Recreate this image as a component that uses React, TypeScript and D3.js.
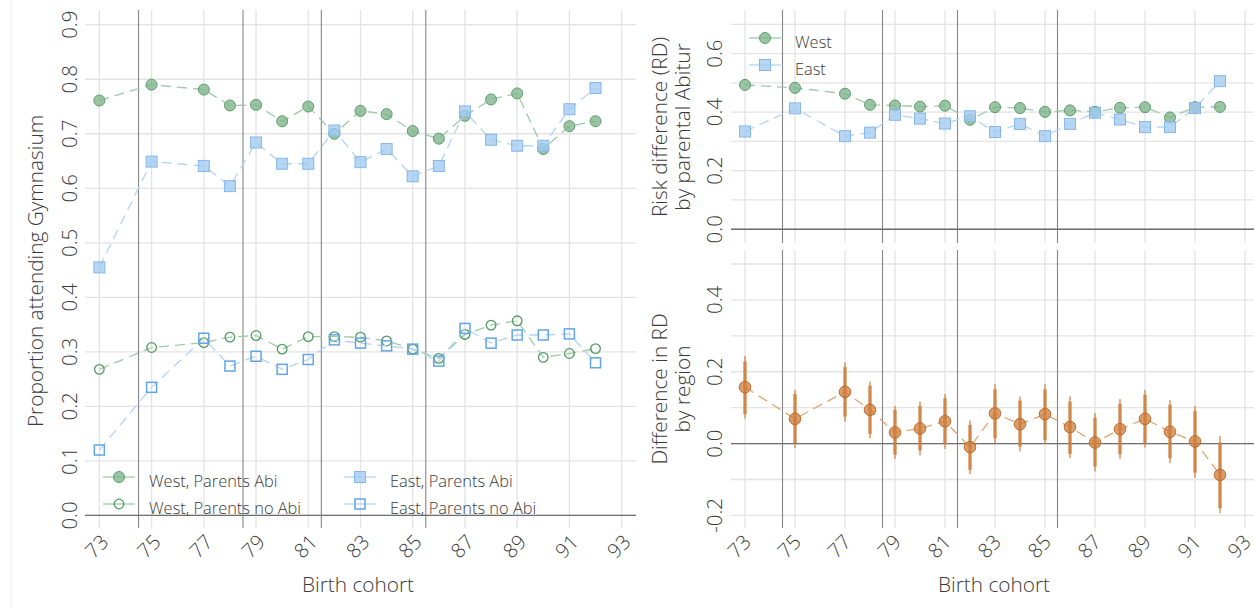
import React from "react";
import * as d3 from "d3";

const years = [73, 75, 77, 78, 79, 80, 81, 82, 83, 84, 85, 86, 87, 88, 89, 90, 91, 92];
const xTicks = [73, 75, 77, 79, 81, 83, 85, 87, 89, 91, 93];
const separators = [74.5, 78.5, 81.5, 85.5];

const westAbi = [0.761, 0.79, 0.781, 0.752, 0.753, 0.723, 0.75, 0.7, 0.742, 0.736, 0.705, 0.691, 0.733, 0.763, 0.774, 0.672, 0.714, 0.723];
const eastAbi = [0.455, 0.649, 0.641, 0.604, 0.684, 0.645, 0.645, 0.706, 0.648, 0.672, 0.622, 0.641, 0.741, 0.689, 0.678, 0.678, 0.745, 0.784];
const westNoAbi = [0.268, 0.308, 0.317, 0.327, 0.33, 0.305, 0.328, 0.328, 0.327, 0.32, 0.305, 0.288, 0.332, 0.349, 0.357, 0.29, 0.297, 0.306];
const eastNoAbi = [0.12, 0.235, 0.325, 0.274, 0.292, 0.268, 0.286, 0.322, 0.316, 0.311, 0.305, 0.283, 0.343, 0.316, 0.331, 0.331, 0.333, 0.28];

const rdWest = [0.493, 0.483, 0.463, 0.425, 0.423, 0.419, 0.422, 0.374, 0.417, 0.414, 0.401, 0.406, 0.401, 0.415, 0.417, 0.382, 0.417, 0.418];
const rdEast = [0.334, 0.413, 0.318, 0.33, 0.391, 0.378, 0.361, 0.386, 0.332, 0.36, 0.318, 0.36, 0.398, 0.375, 0.349, 0.349, 0.414, 0.506];

const diffRD = [0.157, 0.069, 0.144, 0.094, 0.031, 0.042, 0.062, -0.01, 0.084, 0.054, 0.082, 0.046, 0.003, 0.04, 0.069, 0.033, 0.006, -0.087];
const lo95 = [0.07, -0.013, 0.061, 0.015, -0.043, -0.033, -0.015, -0.085, 0.001, -0.022, -0.001, -0.041, -0.078, -0.043, -0.011, -0.055, -0.095, -0.194];
const hi95 = [0.244, 0.149, 0.226, 0.173, 0.105, 0.117, 0.138, 0.064, 0.165, 0.131, 0.165, 0.131, 0.085, 0.124, 0.149, 0.121, 0.105, 0.021];
const lo90 = [0.082, 0.001, 0.075, 0.027, -0.031, -0.019, -0.002, -0.073, 0.015, -0.008, 0.01, -0.029, -0.064, -0.03, 0.001, -0.041, -0.081, -0.18];
const hi90 = [0.229, 0.138, 0.213, 0.161, 0.094, 0.105, 0.126, 0.052, 0.151, 0.12, 0.151, 0.117, 0.072, 0.111, 0.136, 0.108, 0.091, 0.003];

const leftYTicks = [0, 0.1, 0.2, 0.3, 0.4, 0.5, 0.6, 0.7, 0.8, 0.9];
const rtGrid = [0, 0.1, 0.2, 0.3, 0.4, 0.5, 0.6, 0.7];
const rtLabels = [0, 0.2, 0.4, 0.6];
const rbGrid = [-0.2, -0.1, 0, 0.1, 0.2, 0.3, 0.4, 0.5];
const rbLabels = [-0.2, 0, 0.2, 0.4];

const FONT = "'Open Sans', 'Noto Sans', sans-serif";
const FW = 300;
const TXT = "#3a3a3a";
const GRID = "#e3e3e3";
const SEP = "#858585";
const ZERO = "#6e6e6e";

const G_FILL = "#7db38b";
const G_STROKE = "#5c9c6c";
const G_LINE = "#9fcaa9";
const G_OPEN = "#4f9a62";
const B_FILL = "#a2caf1";
const B_STROKE = "#86b7ea";
const B_LINE = "#b3d4f4";
const B_OPEN = "#62a5e6";
const O_FILL = "#cd7d3c";
const O_LINE = "#e2a672";

const fmt = (v: number) => (Math.abs(v) < 1e-9 ? "0.0" : v.toFixed(1));

type Marker = "fcircle" | "ocircle" | "fsquare" | "osquare" | "orange";

function MarkerShape({ x, y, m }: { x: number; y: number; m: Marker }) {
  if (m === "fcircle")
    return <circle cx={x} cy={y} r={5.5} fill={G_FILL} fillOpacity={0.78} stroke={G_STROKE} strokeWidth={1} />;
  if (m === "ocircle")
    return <circle cx={x} cy={y} r={4.8} fill="none" stroke={G_OPEN} strokeWidth={1.3} />;
  if (m === "fsquare")
    return <rect x={x - 5.5} y={y - 5.5} width={11} height={11} fill={B_FILL} fillOpacity={0.78} stroke={B_STROKE} strokeWidth={1} />;
  if (m === "osquare")
    return <rect x={x - 5} y={y - 5} width={10} height={10} fill="none" stroke={B_OPEN} strokeWidth={1.5} />;
  return <circle cx={x} cy={y} r={5.8} fill={O_FILL} fillOpacity={0.75} stroke="#bf6a2a" strokeWidth={1} />;
}

function Series({ xs, ys, values, color, marker }: { xs: d3.ScaleLinear<number, number>; ys: d3.ScaleLinear<number, number>; values: number[]; color: string; marker: Marker }) {
  const line = d3.line<number>().x((_, i) => xs(years[i])).y((v) => ys(v));
  return (
    <g>
      <path d={line(values) || ""} fill="none" stroke={color} strokeWidth={1.3} strokeDasharray="10,6" />
      {values.map((v, i) => (
        <MarkerShape key={i} x={xs(years[i])} y={ys(v)} m={marker} />
      ))}
    </g>
  );
}

function Frame({ xs, ys, top, bottom, left, right, gridY, labelsY, labelX, xLabelY, xLabels, xLabelDx }: any) {
  return (
    <g>
      {gridY.map((v: number) => (
        <line key={"gy" + v} x1={left} x2={right} y1={ys(v)} y2={ys(v)} stroke={GRID} strokeWidth={1.3} />
      ))}
      {xTicks.map((t) => (
        <line key={"gx" + t} x1={xs(t)} x2={xs(t)} y1={top} y2={bottom} stroke={GRID} strokeWidth={1.3} />
      ))}
      {separators.map((s) => (
        <line key={"s" + s} x1={xs(s)} x2={xs(s)} y1={top} y2={bottom} stroke={SEP} strokeWidth={1.1} />
      ))}
      <line x1={left} x2={right} y1={ys(0)} y2={ys(0)} stroke={ZERO} strokeWidth={1.3} />
      {labelsY.map((v: number) => (
        <text key={"ly" + v} transform={`translate(${labelX},${ys(v)}) rotate(-90)`} textAnchor="middle" dominantBaseline="central" fontSize={20.5} fontWeight={FW} fill={TXT} fontFamily={FONT}>
          {fmt(v)}
        </text>
      ))}
      {xLabels &&
        xTicks.map((t) => (
          <text key={"lx" + t} transform={`translate(${xs(t) + (xLabelDx ?? -3)},${xLabelY}) rotate(-45)`} textAnchor="middle" dominantBaseline="central" fontSize={20} fontWeight={FW} fill={TXT} fontFamily={FONT}>
            {t}
          </text>
        ))}
    </g>
  );
}

function LegendItem({ x, y, marker, color, label }: { x: number; y: number; marker: Marker; color: string; label: string }) {
  return (
    <g>
      <line x1={x - 16} x2={x + 16} y1={y} y2={y} stroke={color} strokeWidth={1.3} />
      <MarkerShape x={x} y={y} m={marker} />
      <text x={x + 30} y={y + 3} dominantBaseline="central" fontSize={16.4} fontWeight={FW} fill={TXT} fontFamily={FONT}>
        {label}
      </text>
    </g>
  );
}

export default function App() {
  const xL = d3.scaleLinear().domain([72.45, 93.55]).range([85, 636]);
  const yL = d3.scaleLinear().domain([-0.023, 0.927]).range([528, 10]);
  const xR = d3.scaleLinear().domain([72.45, 93.55]).range([731.25, 1258.75]);
  const yRT = d3.scaleLinear().domain([-0.047, 0.749]).range([243, 10]);
  const yRB = d3.scaleLinear().domain([-0.235, 0.539]).range([528, 250]);

  const diffLine = d3.line<number>().x((_, i) => xR(years[i])).y((v) => yRB(v));
  const title = { fontSize: 20.8, fontWeight: FW, fill: TXT, fontFamily: FONT } as any;

  return (
    <svg width={1254} height={607} style={{ position: "absolute", left: 0, top: 0, background: "#fff" }}>
      <rect x={0} y={0} width={1254} height={607} fill="#fff" />
      <line x1={11} x2={11} y1={0} y2={607} stroke="#ececec" strokeWidth={1} />

      {/* Left panel */}
      <Frame xs={xL} ys={yL} top={10} bottom={528} left={85} right={636} gridY={leftYTicks} labelsY={leftYTicks} labelX={69} xLabelY={546} xLabels xLabelDx={-3} />
      <Series xs={xL} ys={yL} values={westAbi} color={G_LINE} marker="fcircle" />
      <Series xs={xL} ys={yL} values={eastAbi} color={B_LINE} marker="fsquare" />
      <Series xs={xL} ys={yL} values={westNoAbi} color={G_LINE} marker="ocircle" />
      <Series xs={xL} ys={yL} values={eastNoAbi} color={B_LINE} marker="osquare" />
      <LegendItem x={119} y={477} marker="fcircle" color={G_LINE} label="West, Parents Abi" />
      <LegendItem x={119} y={504} marker="ocircle" color={G_LINE} label="West, Parents no Abi" />
      <LegendItem x={360} y={477} marker="fsquare" color={B_LINE} label="East, Parents Abi" />
      <LegendItem x={360} y={504} marker="osquare" color={B_LINE} label="East, Parents no Abi" />
      <text transform="translate(35,271) rotate(-90)" textAnchor="middle" dominantBaseline="central" {...title}>
        Proportion attending Gymnasium
      </text>
      <text x={358} y={584} textAnchor="middle" dominantBaseline="central" {...title}>
        Birth cohort
      </text>

      {/* Right top panel */}
      <Frame xs={xR} ys={yRT} top={10} bottom={243} left={731} right={1254} gridY={rtGrid} labelsY={rtLabels} labelX={714} xLabelY={0} xLabels={false} />
      <Series xs={xR} ys={yRT} values={rdWest} color={G_LINE} marker="fcircle" />
      <Series xs={xR} ys={yRT} values={rdEast} color={B_LINE} marker="fsquare" />
      <LegendItem x={765} y={38} marker="fcircle" color={G_LINE} label="West" />
      <LegendItem x={765} y={65} marker="fsquare" color={B_LINE} label="East" />
      <text transform="translate(659,127) rotate(-90)" textAnchor="middle" dominantBaseline="central" {...title}>
        Risk difference (RD)
      </text>
      <text transform="translate(682,127) rotate(-90)" textAnchor="middle" dominantBaseline="central" {...title}>
        by parental Abitur
      </text>

      {/* Right bottom panel */}
      <Frame xs={xR} ys={yRB} top={250} bottom={528} left={731} right={1254} gridY={rbGrid} labelsY={rbLabels} labelX={714} xLabelY={546} xLabels xLabelDx={-6} />
      <path d={diffLine(diffRD) || ""} fill="none" stroke={O_LINE} strokeWidth={1.3} strokeDasharray="10,6" />
      {years.map((yr, i) => (
        <g key={"ci" + yr}>
          <line x1={xR(yr)} x2={xR(yr)} y1={yRB(lo95[i])} y2={yRB(hi95[i])} stroke={O_FILL} strokeOpacity={0.6} strokeWidth={2} />
          <line x1={xR(yr)} x2={xR(yr)} y1={yRB(lo90[i])} y2={yRB(hi90[i])} stroke={O_FILL} strokeOpacity={0.8} strokeWidth={3.5} />
          <MarkerShape x={xR(yr)} y={yRB(diffRD[i])} m="orange" />
        </g>
      ))}
      <text transform="translate(659,389) rotate(-90)" textAnchor="middle" dominantBaseline="central" {...title}>
        Difference in RD
      </text>
      <text transform="translate(682,389) rotate(-90)" textAnchor="middle" dominantBaseline="central" {...title}>
        by region
      </text>
      <text x={994} y={584} textAnchor="middle" dominantBaseline="central" {...title}>
        Birth cohort
      </text>
    </svg>
  );
}
